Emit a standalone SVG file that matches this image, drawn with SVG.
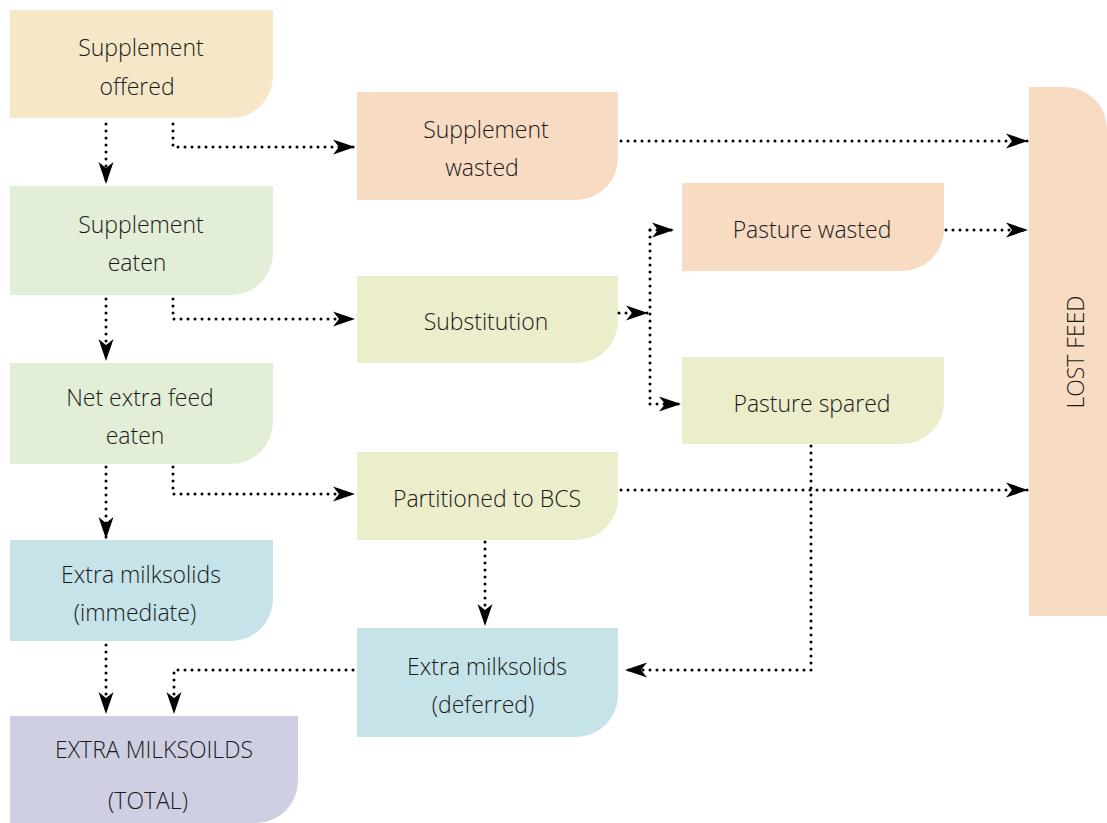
<svg xmlns="http://www.w3.org/2000/svg" width="1107" height="823" viewBox="0 0 1107 823">
<style>
text{font-family:"Open Sans","Noto Sans",sans-serif;font-size:23px;font-weight:350;fill:#1a1a1a;text-anchor:middle}
.c{fill:none;stroke:#000;stroke-width:3;stroke-linecap:round;stroke-dasharray:0 7}
.y{fill:#f6e7c9}.o{fill:#f8dbc3}.g{fill:#e2eed6}.l{fill:#ecedca}.b{fill:#c5e3e8}.p{fill:#cfcfe3}
</style>
<defs>
<marker id="a" markerWidth="23" markerHeight="17" refX="22" refY="8.5" orient="auto" markerUnits="userSpaceOnUse">
<path d="M0,1 L22,8.5 L0,16 L6,8.5 Z" fill="#000"/>
</marker>
</defs>
<rect width="1107" height="823" fill="#fff"/>
<g id="n1"><path class="y" d="M10,10H273V76A42,42 0 0 1 231,118H10Z"/><text x="141" y="56">Supplement</text><text x="137" y="95">offered</text></g>
<g id="n2"><path class="o" d="M357,92H618V158A42,42 0 0 1 576,200H357Z"/><text x="486" y="138">Supplement</text><text x="482" y="176">wasted</text></g>
<g id="n3"><path class="g" d="M10,186H273V253A42,42 0 0 1 231,295H10Z"/><text x="141" y="233">Supplement</text><text x="137" y="271">eaten</text></g>
<g id="n4"><path class="o" d="M682,183H944V229A42,42 0 0 1 902,271H682Z"/><text x="812" y="238">Pasture wasted</text></g>
<g id="n5"><path class="l" d="M357,276H618V321A42,42 0 0 1 576,363H357Z"/><text x="486" y="330">Substitution</text></g>
<g id="n6"><path class="g" d="M10,363H273V422A42,42 0 0 1 231,464H10Z"/><text x="140" y="406">Net extra feed</text><text x="135" y="444">eaten</text></g>
<g id="n7"><path class="l" d="M682,357H944V402A42,42 0 0 1 902,444H682Z"/><text x="812" y="412">Pasture spared</text></g>
<g id="n8"><path class="l" d="M357,452H618V498A42,42 0 0 1 576,540H357Z"/><text x="487" y="507">Partitioned to BCS</text></g>
<g id="n9"><path class="b" d="M10,540H273V599A42,42 0 0 1 231,641H10Z"/><text x="141" y="583">Extra milksolids</text><text x="135" y="621">(immediate)</text></g>
<g id="n10"><path class="b" d="M357,628H618V695A42,42 0 0 1 576,737H357Z"/><text x="487" y="675">Extra milksolids</text><text x="483" y="713">(deferred)</text></g>
<g id="n11"><path class="p" d="M10,716H298V781A42,42 0 0 1 256,823H10Z"/><text x="154" y="758">EXTRA MILKSOILDS</text><text x="148" y="809">(TOTAL)</text></g>
<g id="n12"><path class="o" d="M1029,87H1065A42,42 0 0 1 1107,129V616H1029Z"/><text transform="translate(1084,352) rotate(-90)">LOST FEED</text></g>
<g id="connectors">
<path class="c" d="M106,124V184" marker-end="url(#a)"/>
<path class="c" d="M173,124V147H355" marker-end="url(#a)"/>
<path class="c" d="M106,299V361" marker-end="url(#a)"/>
<path class="c" d="M173,299V319H355" marker-end="url(#a)"/>
<path class="c" d="M106,467V539" marker-end="url(#a)"/>
<path class="c" d="M173,467V494H355" marker-end="url(#a)"/>
<path class="c" d="M106,645V714" marker-end="url(#a)"/>
<path class="c" d="M353,670H174V714" marker-end="url(#a)"/>
<path class="c" d="M485,542V626" marker-end="url(#a)"/>
<path class="c" d="M621,490H1028" marker-end="url(#a)"/>
<path class="c" d="M621,141H1028" marker-end="url(#a)"/>
<path class="c" d="M946,230H1028" marker-end="url(#a)"/>
<path class="c" d="M619,313H648" marker-end="url(#a)"/>
<path class="c" d="M650,230V404"/>
<path class="c" d="M650,230H674" marker-end="url(#a)"/>
<path class="c" d="M650,404H681" marker-end="url(#a)"/>
<path class="c" d="M811,446V670H625" marker-end="url(#a)"/>
</g>
</svg>
